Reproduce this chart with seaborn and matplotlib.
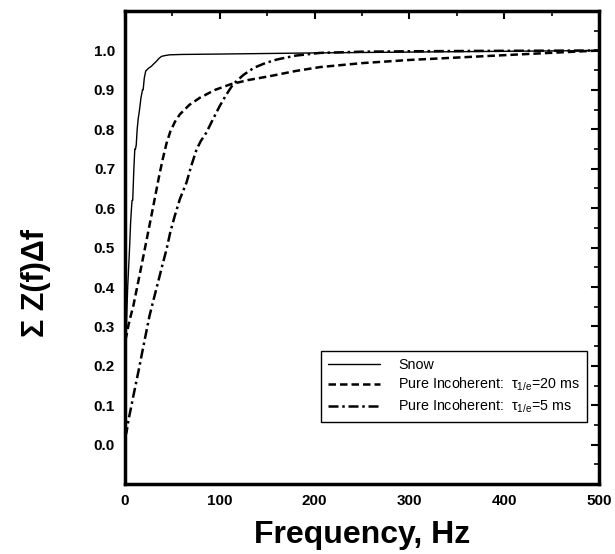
import matplotlib
matplotlib.use("Agg")
import matplotlib.pyplot as plt
import seaborn as sns
import numpy as np
import pandas as pd

# ---- data ----
snow_f = [0, 0.6, 1.2, 1.7, 2.3, 3, 4, 5, 6, 7, 7.6, 8.3, 9.5, 10.5, 11.2, 12, 13, 14, 15.5, 17,
          18.6, 19.3, 20.5, 22, 25, 28, 30, 33, 36, 38.6, 42, 47, 60, 100, 205, 300, 400, 500]
snow_v = [0.0, 0.1, 0.2, 0.3, 0.35, 0.4, 0.45, 0.5, 0.56, 0.6, 0.62, 0.62, 0.7, 0.75, 0.75, 0.76,
          0.8, 0.825, 0.85, 0.88, 0.9, 0.9, 0.93, 0.948, 0.955, 0.96, 0.965, 0.972, 0.98, 0.985,
          0.987, 0.989, 0.99, 0.991, 0.994, 0.996, 0.998, 1.0]

inc20_f = [0.5, 1.7, 3.7, 6, 9, 14, 21, 28, 32, 36, 40, 44, 48, 53, 58, 68, 79, 95, 111, 130,
           153, 180, 206, 250, 300, 374, 440, 500]
inc20_v = [0.265, 0.277, 0.302, 0.325, 0.353, 0.412, 0.496, 0.581, 0.63, 0.68, 0.725, 0.765,
           0.795, 0.82, 0.838, 0.862, 0.880, 0.900, 0.914, 0.925, 0.935, 0.948, 0.958, 0.968,
           0.976, 0.985, 0.993, 1.0]

inc5_f = [0.3, 1.8, 4, 7, 9.5, 12, 15.5, 19, 22.5, 26, 30.5, 35, 39.5, 44, 48, 52.7, 58, 65,
          70, 75.6, 80, 86, 93, 100, 107, 114, 125, 136, 148, 160, 180, 206, 250, 300, 374, 440, 500]
inc5_v = [0.02, 0.032, 0.065, 0.1, 0.13, 0.159, 0.2, 0.243, 0.285, 0.327, 0.37, 0.412, 0.455,
          0.496, 0.54, 0.581, 0.623, 0.665, 0.707, 0.749, 0.77, 0.792, 0.826, 0.859, 0.888, 0.914,
          0.938, 0.956, 0.968, 0.977, 0.987, 0.994, 0.997, 0.998, 0.999, 0.9995, 1.0]

xticks = [0, 100, 200, 300, 400, 500]
yticks = [0.0, 0.1, 0.2, 0.3, 0.4, 0.5, 0.6, 0.7, 0.8, 0.9, 1.0]
labels = ["Snow",
          r"Pure Incoherent:  $\tau_{1/e}$=20 ms",
          r"Pure Incoherent:  $\tau_{1/e}$=5 ms"]

sns.set_theme(style="white")
plt.rcParams['font.family'] = ['Liberation Sans', 'DejaVu Sans']
plt.rcParams['mathtext.fontset'] = 'custom'
plt.rcParams['mathtext.rm'] = 'Liberation Sans'
plt.rcParams['mathtext.it'] = 'Liberation Sans'
for k in ['text.color', 'axes.labelcolor', 'xtick.color', 'ytick.color']:
    plt.rcParams[k] = 'black'

fig = plt.figure(figsize=(6.15, 5.54), dpi=100)
ax = fig.add_axes([0.203, 0.126, 0.771, 0.854])

df_snow = pd.DataFrame({"f": snow_f, "v": snow_v})
df_20 = pd.DataFrame({"f": inc20_f, "v": inc20_v})
df_5 = pd.DataFrame({"f": inc5_f, "v": inc5_v})

sns.lineplot(data=df_snow, x="f", y="v", ax=ax, color="black", linewidth=1.0,
             estimator=None, sort=False, label=labels[0])
sns.lineplot(data=df_20, x="f", y="v", ax=ax, color="black", linewidth=1.8,
             linestyle=(0, (3.0, 1.6)), estimator=None, sort=False, label=labels[1])
sns.lineplot(data=df_5, x="f", y="v", ax=ax, color="black", linewidth=1.8,
             linestyle=(0, (4.0, 1.5, 1.0, 1.5)), estimator=None, sort=False, label=labels[2])

ax.set_xlim(0, 500)
ax.set_ylim(-0.1, 1.1)
ax.set_xticks(xticks)
ax.set_xticks(np.arange(50, 500, 100), minor=True)
ax.set_yticks(yticks)
ax.set_yticks(np.arange(-0.05, 1.1, 0.1), minor=True)
ax.set_xticklabels([str(t) for t in xticks], fontsize=11, fontweight='bold')
ax.set_yticklabels([f"{t:.1f}" for t in yticks], fontsize=11, fontweight='bold')
ax.tick_params(which='major', direction='in', length=6, width=1.5, top=True, right=True,
               colors='black', pad=7)
ax.tick_params(which='minor', direction='in', length=3.5, width=1.2, top=True, right=True,
               colors='black')
for s in ax.spines.values():
    s.set_visible(True)
    s.set_color('black')
    s.set_linewidth(2.5)

ax.set_xlabel("Frequency, Hz", fontsize=23, fontweight='bold', color='black')
ax.xaxis.set_label_coords(0.5, -0.075)
ax.set_ylabel("Σ Z(f)Δf", fontsize=22, fontweight='bold', color='black')
ax.yaxis.set_label_coords(-0.155, 0.425)

leg = ax.legend(loc='lower right', bbox_to_anchor=(0.975, 0.131), fontsize=10.3,
                frameon=True, fancybox=False, handlelength=3.6, borderpad=0.5,
                labelspacing=0.3, handletextpad=1.3, borderaxespad=0)
leg.get_frame().set_edgecolor('black')
leg.get_frame().set_linewidth(1.0)
leg.get_frame().set_alpha(1)

fig.savefig("out.png", dpi=100)
